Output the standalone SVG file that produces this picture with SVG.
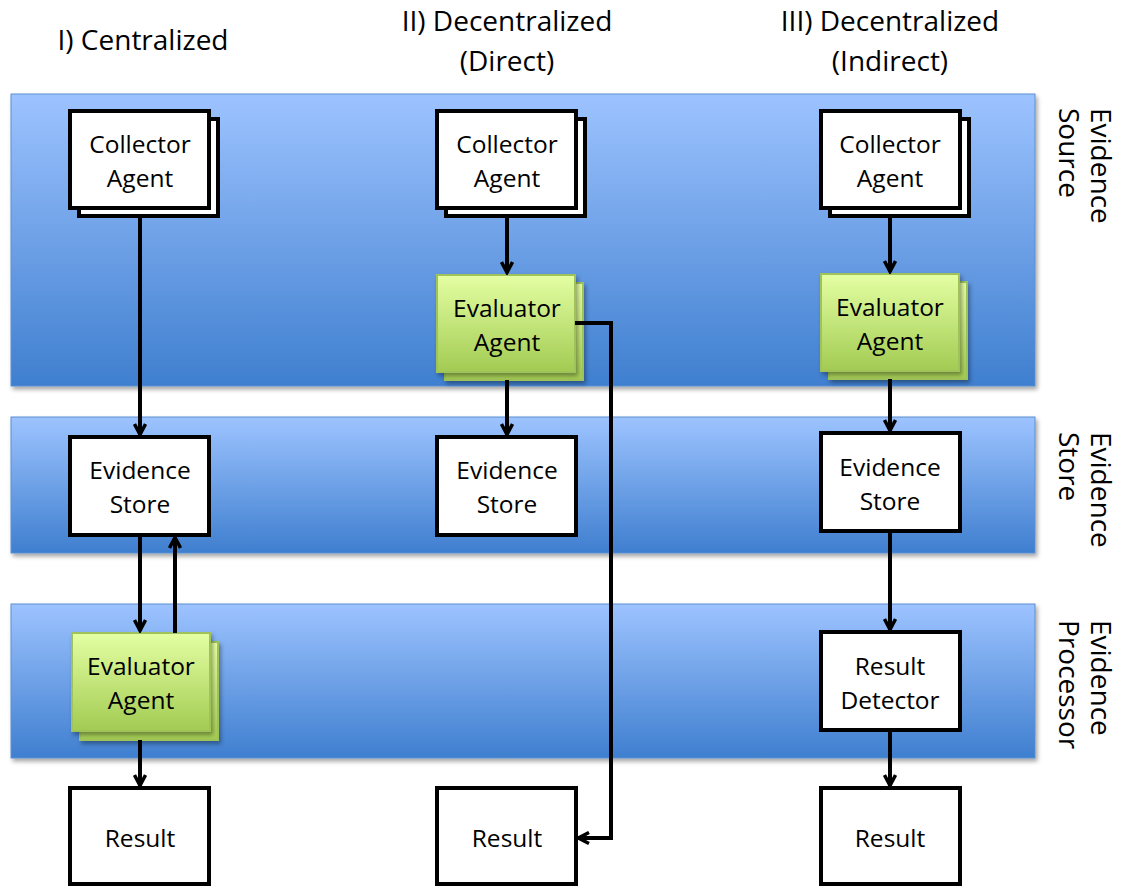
<svg xmlns="http://www.w3.org/2000/svg" width="1122" height="886" viewBox="0 0 1122 886">
  <defs>
    <linearGradient id="band" x1="0" y1="0" x2="0" y2="1">
      <stop offset="0" stop-color="#9dc3ff"/>
      <stop offset="1" stop-color="#3f7fcf"/>
    </linearGradient>
    <linearGradient id="green" x1="0" y1="0" x2="0" y2="1">
      <stop offset="0" stop-color="#e4ffa3"/>
      <stop offset="1" stop-color="#a2cb52"/>
    </linearGradient>
    <filter id="sh" x="-10%" y="-10%" width="130%" height="130%">
      <feDropShadow dx="2" dy="3" stdDeviation="2" flood-color="#000" flood-opacity="0.35"/>
    </filter>
    <marker id="arr" viewBox="0 0 14 14" refX="12.5" refY="7" markerWidth="14" markerHeight="14" markerUnits="userSpaceOnUse" orient="auto">
      <path d="M1.5,1.5 L12,7 L1.5,12.5" fill="none" stroke="#000" stroke-width="3.5" stroke-linejoin="miter"/>
    </marker>
  </defs>
  <style>
    .band { fill: url(#band); stroke: #5a8fd0; stroke-width: 1; filter: url(#sh); }
    .box { fill: #fff; stroke: #000; stroke-width: 4; }
    .gbox { fill: url(#green); stroke: #9fc25a; stroke-width: 2; filter: url(#sh); }
    .lbl { font-family: "Open Sans", "Liberation Sans", sans-serif; font-size: 24.5px; fill: #000; text-anchor: middle; }
    .hdr { font-family: "Open Sans", "Liberation Sans", sans-serif; font-size: 28px; fill: #000; text-anchor: middle; }
    .side { font-family: "Open Sans", "Liberation Sans", sans-serif; font-size: 28px; fill: #000; }
    .conn { fill: none; stroke: #000; stroke-width: 4; }
  </style>

  <rect width="1122" height="886" fill="#fff"/>

  <!-- column headings -->
  <g id="headers">
    <text class="hdr" x="143" y="50">I) Centralized</text>
    <text class="hdr" x="507" y="31">II) Decentralized</text>
    <text class="hdr" x="507" y="71">(Direct)</text>
    <text class="hdr" x="890" y="31">III) Decentralized</text>
    <text class="hdr" x="890" y="71">(Indirect)</text>
  </g>

  <!-- layer bands -->
  <g id="bands">
    <rect class="band" x="11" y="94" width="1024" height="292"/>
    <rect class="band" x="11" y="417" width="1024" height="136"/>
    <rect class="band" x="11" y="604" width="1024" height="154"/>
  </g>

  <!-- layer names, rotated -->
  <g id="layer-labels">
    <text class="side" transform="translate(1091,108) rotate(90)">Evidence</text>
    <text class="side" transform="translate(1059,108) rotate(90)">Source</text>
    <text class="side" transform="translate(1091,432) rotate(90)">Evidence</text>
    <text class="side" transform="translate(1059,432) rotate(90)">Store</text>
    <text class="side" transform="translate(1091,620) rotate(90)">Evidence</text>
    <text class="side" transform="translate(1059,620) rotate(90)">Processor</text>
  </g>

  <!-- column I -->
  <g id="collector1">
    <rect class="box" x="79" y="119" width="139" height="97"/>
    <rect class="box" x="70" y="111" width="139" height="97"/>
    <text class="lbl" x="140" y="153">Collector</text>
    <text class="lbl" x="140" y="187">Agent</text>
  </g>
  <g id="store1">
    <rect class="box" x="70" y="437" width="139" height="98"/>
    <text class="lbl" x="140" y="479">Evidence</text>
    <text class="lbl" x="140" y="513">Store</text>
  </g>
  <g id="evaluator1">
    <rect class="gbox" x="80" y="642" width="138" height="98"/>
    <rect class="gbox" x="72" y="633" width="138" height="98"/>
    <text class="lbl" x="141" y="675">Evaluator</text>
    <text class="lbl" x="141" y="709">Agent</text>
  </g>
  <g id="result1">
    <rect class="box" x="70" y="788" width="139" height="96"/>
    <text class="lbl" x="140" y="847">Result</text>
  </g>

  <!-- column II -->
  <g id="collector2">
    <rect class="box" x="446" y="119" width="139" height="97"/>
    <rect class="box" x="437" y="111" width="139" height="97"/>
    <text class="lbl" x="507" y="153">Collector</text>
    <text class="lbl" x="507" y="187">Agent</text>
  </g>
  <g id="evaluator2">
    <rect class="gbox" x="445" y="283" width="138" height="97"/>
    <rect class="gbox" x="437" y="275" width="138" height="97"/>
    <text class="lbl" x="507" y="317">Evaluator</text>
    <text class="lbl" x="507" y="351">Agent</text>
  </g>
  <g id="store2">
    <rect class="box" x="437" y="437" width="139" height="98"/>
    <text class="lbl" x="507" y="479">Evidence</text>
    <text class="lbl" x="507" y="513">Store</text>
  </g>
  <g id="result2">
    <rect class="box" x="437" y="788" width="139" height="96"/>
    <text class="lbl" x="507" y="847">Result</text>
  </g>

  <!-- column III -->
  <g id="collector3">
    <rect class="box" x="830" y="119" width="139" height="97"/>
    <rect class="box" x="821" y="111" width="139" height="97"/>
    <text class="lbl" x="890" y="153">Collector</text>
    <text class="lbl" x="890" y="187">Agent</text>
  </g>
  <g id="evaluator3">
    <rect class="gbox" x="829" y="282" width="138" height="97"/>
    <rect class="gbox" x="821" y="274" width="138" height="97"/>
    <text class="lbl" x="890" y="316">Evaluator</text>
    <text class="lbl" x="890" y="350">Agent</text>
  </g>
  <g id="store3">
    <rect class="box" x="821" y="433" width="139" height="98"/>
    <text class="lbl" x="890" y="476">Evidence</text>
    <text class="lbl" x="890" y="510">Store</text>
  </g>
  <g id="detector3">
    <rect class="box" x="821" y="632" width="139" height="98"/>
    <text class="lbl" x="890" y="675">Result</text>
    <text class="lbl" x="890" y="709">Detector</text>
  </g>
  <g id="result3">
    <rect class="box" x="821" y="788" width="139" height="96"/>
    <text class="lbl" x="890" y="847">Result</text>
  </g>

  <!-- connectors -->
  <g id="connectors">
    <path class="conn" d="M140,216 V435" marker-end="url(#arr)"/>
    <path class="conn" d="M140,535 V631" marker-end="url(#arr)"/>
    <path class="conn" d="M175,633 V537" marker-end="url(#arr)"/>
    <path class="conn" d="M140,740 V786" marker-end="url(#arr)"/>

    <path class="conn" d="M507,216 V273" marker-end="url(#arr)"/>
    <path class="conn" d="M507,380 V435" marker-end="url(#arr)"/>
    <path class="conn" d="M575,323 H611 V838 H578" marker-end="url(#arr)"/>

    <path class="conn" d="M890,216 V272" marker-end="url(#arr)"/>
    <path class="conn" d="M890,379 V431" marker-end="url(#arr)"/>
    <path class="conn" d="M890,531 V630" marker-end="url(#arr)"/>
    <path class="conn" d="M890,730 V786" marker-end="url(#arr)"/>
  </g>
</svg>
